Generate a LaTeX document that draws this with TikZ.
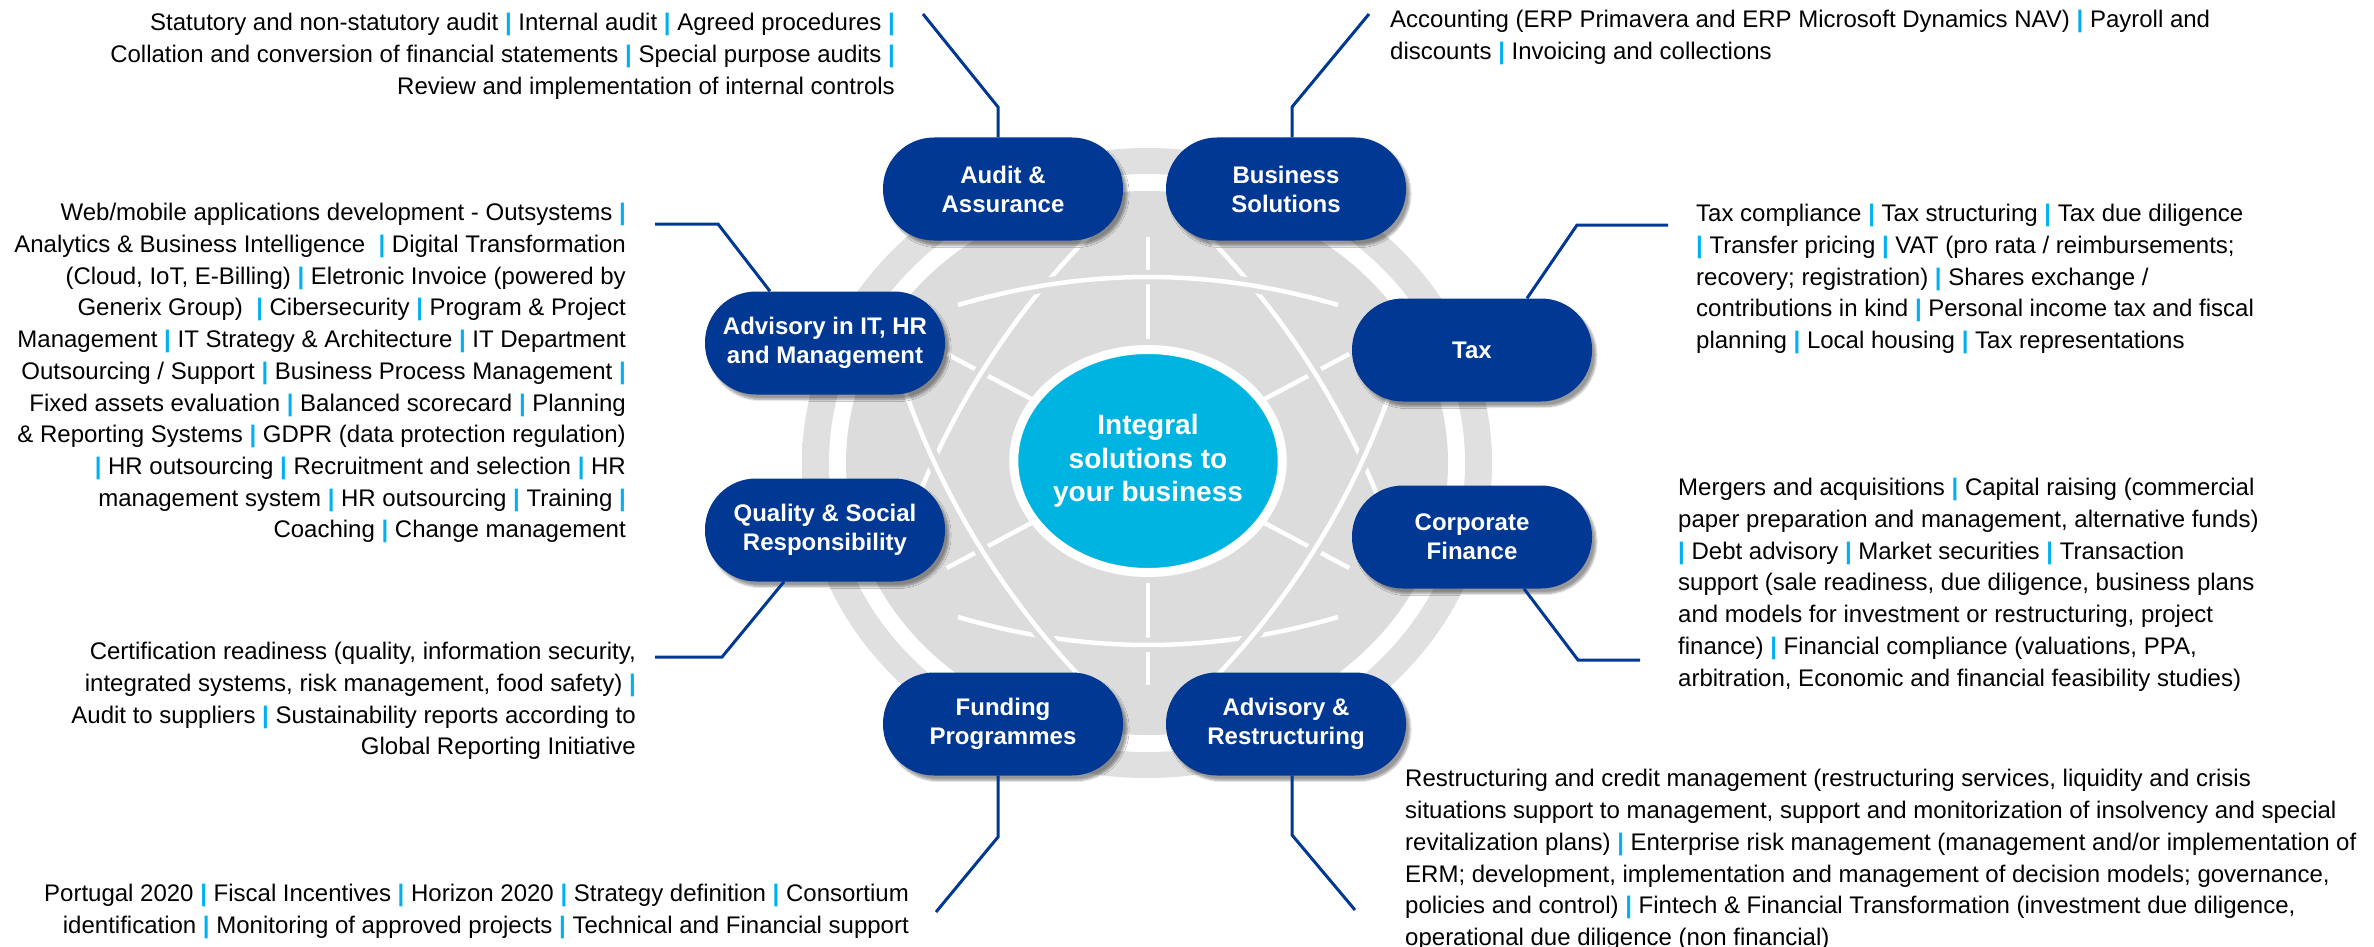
\documentclass[tikz,border=0pt]{standalone}
\usepackage{fontspec}
\setmainfont{Liberation Sans}
\usetikzlibrary{calc,shapes.geometric,shadows.blur}
\definecolor{pillblue}{RGB}{0,56,147}
\definecolor{centercyan}{RGB}{0,180,225}
\definecolor{pipec}{RGB}{0,176,240}
\definecolor{discc}{RGB}{220,220,220}
\definecolor{haloc}{RGB}{224,224,224}
\pgfdeclareradialshading{halofade}{\pgfpoint{0bp}{0bp}}{color(0bp)=(haloc); color(45.5bp)=(haloc); color(50bp)=(white)}
\newcommand{\pp}{\textcolor{pipec}{\textbf{|}}}
\begin{document}
\begin{tikzpicture}[x=1pt,y=-1pt,
  pill/.style={rectangle, rounded corners=51pt, fill=pillblue, minimum width=240pt, minimum height=103pt,
    text=white, font=\fontsize{24}{29}\selectfont\bfseries, align=center, inner sep=0pt,
    blur shadow={shadow xshift=4pt, shadow yshift=-5pt, shadow blur steps=6, shadow opacity=40}},
  core/.style={ellipse, fill=centercyan, draw=white, line width=9pt, minimum width=235pt, minimum height=223pt,
    text=white, font=\fontsize{28}{33.5}\selectfont\bfseries, align=center, inner sep=0pt},
  desc/.style={inner sep=0pt, font=\fontsize{24}{31.7}\selectfont, text=black},
  conn/.style={draw=pillblue, line width=3pt},
  wl/.style={draw=white, line width=4.5pt},
  wlh/.style={draw=discc, line width=5pt, double=white, double distance=4.5pt},
]
\useasboundingbox (0,0) rectangle (2374,947);
\coordinate (C) at (1148,461);
\coordinate (D) at (1147,463);
% disc
\path[shading=halofade] (D) ellipse [x radius=345, y radius=315];
\fill[white] (D) ellipse [x radius=318, y radius=289];
\fill[discc] (D) ellipse [x radius=301, y radius=272];
% spokes
\foreach \a/\ri/\ro in {208/128/228, 152/128/228, 332/128/228, 28/128/228, 270/122/224, 90/122/224}
  \draw[wl] ($(C)+(\a:\ri)$) -- ($(C)+(\a:\ro)$);
% meridians A (upper)
\draw[wlh] (1099.0,226.1) arc[start angle=-134.5, end angle=-160, radius=799];
\draw[wlh] (1197.0,226.1) arc[start angle=-45.5, end angle=-20, radius=799];
% latitude arcs
\draw[wlh] (958,305) .. controls (1084.7,267.7) and (1211.3,267.7) .. (1338,305);
\draw[wlh] (958,617) .. controls (1084.7,654.3) and (1211.3,654.3) .. (1338,617);
% meridians B (lower)
\draw[wlh] (899.1,372.9) arc[start angle=162, end angle=134.5, radius=799];
\draw[wlh] (1396.9,372.9) arc[start angle=18, end angle=45.5, radius=799];
% centre
\node[core] (core) at (1148,461) {Integral\\solutions to\\your business};
% pills
\node[pill] (audit) at (1003,189) {Audit \&\\Assurance};
\node[pill] (biz) at (1286,189) {Business\\Solutions};
\node[pill] (tax) at (1472,350) {Tax};
\node[pill] (cf) at (1472,537) {Corporate\\Finance};
\node[pill] (ar) at (1286,724) {Advisory \&\\Restructuring};
\node[pill] (fund) at (1003,724) {Funding\\Programmes};
\node[pill] (qual) at (825,530) {Quality \& Social\\Responsibility};
\node[pill] (it) at (825,343) {Advisory in IT, HR\\and Management};
% connector points
\coordinate (auditBend) at (998,107);  \coordinate (auditEnd) at (923,14);
\coordinate (bizBend) at (1292,107);   \coordinate (bizEnd) at (1369,14);
\coordinate (taxStart) at (1527,0);    \coordinate (taxBend) at (1577,225); \coordinate (taxEnd) at (1668,225);
\coordinate (cfStart) at (1524,0);     \coordinate (cfBend) at (1578,660);  \coordinate (cfEnd) at (1640,660);
\coordinate (arBend) at (1292,835);    \coordinate (arEnd) at (1355,910);
\coordinate (fundBend) at (998,837);   \coordinate (fundEnd) at (936,912);
\coordinate (qualStart) at (784,0);    \coordinate (qualBend) at (722,657); \coordinate (qualEnd) at (655,657);
\coordinate (itStart) at (770,0);      \coordinate (itBend) at (718,224);   \coordinate (itEnd) at (655,224);
\draw[conn] (audit.north -| auditBend) -- (auditBend) -- (auditEnd);
\draw[conn] (biz.north -| bizBend) -- (bizBend) -- (bizEnd);
\draw[conn] (tax.north -| taxStart) -- (taxBend) -- (taxEnd);
\draw[conn] (cf.south -| cfStart) -- (cfBend) -- (cfEnd);
\draw[conn] (ar.south -| arBend) -- (arBend) -- (arEnd);
\draw[conn] (fund.south -| fundBend) -- (fundBend) -- (fundEnd);
\draw[conn] (qual.south -| qualStart) -- (qualBend) -- (qualEnd);
\draw[conn] (it.north -| itStart) -- (itBend) -- (itEnd);
% descriptions
\node[desc, anchor=north east, align=right] (tAudit) at (895,8.5) {\strut Statutory and non-statutory audit \pp{} Internal audit \pp{} Agreed procedures \pp\\Collation and conversion of financial statements \pp{} Special purpose audits \pp\\Review and implementation of internal controls};
\node[desc, anchor=north west, align=left] (tBiz) at (1390,5.5) {\strut Accounting (ERP Primavera and ERP Microsoft Dynamics NAV) \pp{} Payroll and\\discounts \pp{} Invoicing and collections};
\node[desc, anchor=north east, align=right] (tIT) at (626,198.5) {\strut Web/mobile applications development - Outsystems \pp\\
Analytics \& Business Intelligence~ \pp{} Digital Transformation\\
(Cloud, IoT, E-Billing) \pp{} Eletronic Invoice (powered by\\
Generix Group)~ \pp{} Cibersecurity \pp{} Program \& Project\\
Management \pp{} IT Strategy \& Architecture \pp{} IT Department\\
Outsourcing / Support \pp{} Business Process Management \pp\\
Fixed assets evaluation \pp{} Balanced scorecard \pp{} Planning\\
\& Reporting Systems \pp{} GDPR (data protection regulation)\\
\pp{} HR outsourcing \pp{} Recruitment and selection \pp{} HR\\
management system \pp{} HR outsourcing \pp{} Training \pp\\
Coaching \pp{} Change management};
\node[desc, anchor=north west, align=left] (tTax) at (1696,199.5) {\strut Tax compliance \pp{} Tax structuring \pp{} Tax due diligence\\
\pp{} Transfer pricing \pp{} VAT (pro rata / reimbursements;\\
recovery; registration) \pp{} Shares exchange /\\
contributions in kind \pp{} Personal income tax and fiscal\\
planning \pp{} Local housing \pp{} Tax representations};
\node[desc, anchor=north west, align=left] (tCF) at (1678,473.5) {\strut Mergers and acquisitions \pp{} Capital raising (commercial\\
paper preparation and management, alternative funds)\\
\pp{} Debt advisory \pp{} Market securities \pp{} Transaction\\
support (sale readiness, due diligence, business plans\\
and models for investment or restructuring, project\\
finance) \pp{} Financial compliance (valuations, PPA,\\
arbitration, Economic and financial feasibility studies)};
\node[desc, anchor=north west, align=left] (tAR) at (1405,764.5) {\strut Restructuring and credit management (restructuring services, liquidity and crisis\\
situations support to management, support and monitorization of insolvency and special\\
revitalization plans) \pp{} Enterprise risk management (management and/or implementation of\\
ERM; development, implementation and management of decision models; governance,\\
policies and control) \pp{} Fintech \& Financial Transformation (investment due diligence,\\
operational due diligence (non financial)};
\node[desc, anchor=north east, align=right] (tQual) at (636,637.5) {\strut Certification readiness (quality, information security,\\
integrated systems, risk management, food safety) \pp\\
Audit to suppliers \pp{} Sustainability reports according to\\
Global Reporting Initiative};
\node[desc, anchor=north east, align=right] (tFund) at (909,879.5) {\strut Portugal 2020 \pp{} Fiscal Incentives \pp{} Horizon 2020 \pp{} Strategy definition \pp{} Consortium\\
identification \pp{} Monitoring of approved projects \pp{} Technical and Financial support};
\end{tikzpicture}
\end{document}
